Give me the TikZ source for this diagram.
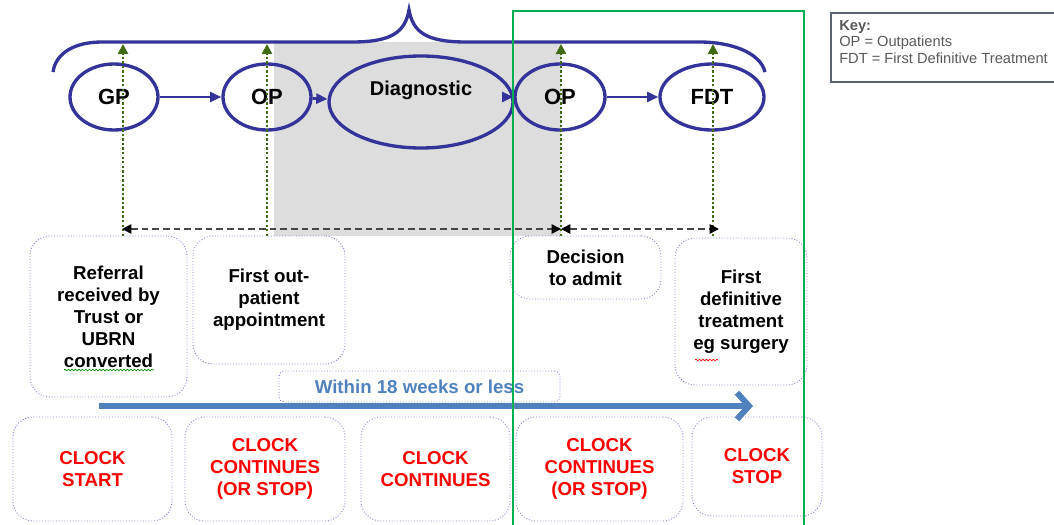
\documentclass[tikz,border=0pt]{standalone}
\usepackage{fontspec}
\setmainfont{Liberation Sans}
\usetikzlibrary{shapes.geometric,arrows.meta,decorations.pathmorphing}
\definecolor{ellblue}{RGB}{51,51,153}
\definecolor{dgreen}{RGB}{64,106,20}
\definecolor{dashgray}{RGB}{70,70,70}
\definecolor{boxcol}{RGB}{135,135,215}
\definecolor{shadegray}{RGB}{221,221,221}
\definecolor{brightgreen}{RGB}{0,176,80}
\definecolor{arrowblue}{RGB}{79,129,189}
\definecolor{clockred}{RGB}{255,0,0}
\definecolor{keygray}{RGB}{89,89,89}
\definecolor{keyborder}{RGB}{90,100,110}
\begin{document}
\begin{tikzpicture}[x=0.75pt,y=-0.75pt,
  ell/.style={ellipse, draw=ellblue, line width=2.5pt, inner sep=0pt, font=\fontsize{16.5}{18}\selectfont\bfseries},
  flow/.style={draw=ellblue, line width=2pt, -{Triangle[length=8.5pt,width=7.5pt]}},
  vdot/.style={draw=dgreen, line width=1.8pt, dash pattern=on 1.8pt off 1.6pt, -{Triangle[length=7.5pt,width=7.5pt]}},
  dasharr/.style={draw=dashgray, line width=1.2pt, dash pattern=on 5pt off 3pt, {Triangle[length=7pt,width=7pt,color=black]}-{Triangle[length=7pt,width=7pt,color=black]}},
  stagebox/.style={draw=boxcol, line width=0.7pt, dash pattern=on 0.7pt off 1.4pt, rounded corners=15pt, inner sep=0pt, align=center, font=\fontsize{14}{16.5}\selectfont\bfseries},
  clockbox/.style={stagebox, text=clockred},
  bigarrow/.style={draw=arrowblue, line width=4.5pt, -{Straight Barb[length=9pt,width=20pt]}},
  squiggle/.style={decorate, decoration={snake, amplitude=0.6pt, segment length=2.6pt}, line width=0.5pt},
]
\useasboundingbox (0,0) rectangle (1054,525);

% shaded region
\fill[shadegray] (274,42) rectangle (561,236);

% brace
\draw[ellblue, line width=2.5pt] (53,72) .. controls (56,52) and (76,42) .. (102,42) -- (352,42)
  .. controls (392,42) and (405,32) .. (409,10) .. controls (413,32) and (426,42) .. (466,42)
  -- (700,42) .. controls (730,42) and (760,52) .. (765,72);

% ellipses
\node[ell, minimum width=66pt, minimum height=49.5pt] (gp) at (114,97) {GP};
\node[ell, minimum width=66pt, minimum height=49.5pt] (op1) at (267,97) {OP};
\node[ell, minimum width=138pt, minimum height=69pt] (diag) at (421,102) {};
\node[font=\fontsize{15}{17}\selectfont\bfseries] (diagtext) at (421,90) {Diagnostic};
\node[ell, minimum width=67.5pt, minimum height=49.5pt] (op2) at (560,97) {OP};
\node[ell, minimum width=78pt, minimum height=49.5pt] (fdt) at (712,97) {FDT};

% flow arrows
\draw[flow] (gp) -- (op1);
\draw[flow] (op1) -- (diag);
\draw[flow] ([xshift=-8pt]diag.east |- op2.west) -- (op2.west);
\draw[flow] (op2) -- (fdt);

% vertical dotted arrows
\coordinate (b1) at (123,236); \coordinate (t1) at (123,44);
\coordinate (b2) at (267,236); \coordinate (t2) at (267,44);
\coordinate (b3) at (561,236); \coordinate (t3) at (561,44);
\coordinate (b4) at (713,236); \coordinate (t4) at (713,44);
\draw[vdot] (b1) -- (t1);
\draw[vdot] (b2) -- (t2);
\draw[vdot] (b3) -- (t3);
\draw[vdot] (b4) -- (t4);

% dashed double arrows
\coordinate (d1) at (122,229); \coordinate (d2) at (561,229); \coordinate (d3) at (719,229);
\draw[dasharr] (d1) -- (d2);
\draw[dasharr] (d2) -- (d3);

% stage boxes
\node[stagebox, minimum width=117.75pt, minimum height=120.75pt] (ref) at (108.5,316.5) {Referral\\received by\\Trust or\\UBRN\\converted};
\node[stagebox, minimum width=114pt, minimum height=96pt] (fop) at (269,300) {First out-\\patient\\appointment};
\node[stagebox, minimum width=113.25pt, minimum height=47.25pt] (dta) at (585.5,267.5) {Decision\\to admit};
\node[stagebox, minimum width=99pt, minimum height=110.25pt] (fdtbox) at (741,311.5) {First\\definitive\\treatment\\eg surgery};

% spell-check marks
\coordinate (sq1a) at (64,370); \coordinate (sq1b) at (154,370);
\draw[squiggle, green!55!black] (sq1a) -- (sq1b);
\coordinate (sq2a) at (695,360); \coordinate (sq2b) at (718,360);
\draw[squiggle, red] (sq2a) -- (sq2b);

% within 18 weeks
\node[stagebox, rounded corners=4pt, minimum width=210.75pt, minimum height=23.25pt, text=arrowblue] (within) at (419.5,386.5) {Within 18 weeks or less};
\coordinate (ws) at (99,406); \coordinate (we) at (753,406);
\draw[bigarrow] (ws) -- (we);

% clock boxes
\node[clockbox, minimum width=119.25pt, minimum height=78pt] (c1) at (92.5,469) {CLOCK\\START};
\node[clockbox, minimum width=120pt, minimum height=78pt] (c2) at (265,469) {CLOCK\\CONTINUES\\(OR STOP)};
\node[clockbox, minimum width=111.75pt, minimum height=78pt] (c3) at (435.5,469) {CLOCK\\CONTINUES};
\node[clockbox, minimum width=125.25pt, minimum height=78pt] (c4) at (599.5,469) {CLOCK\\CONTINUES\\(OR STOP)};
\node[clockbox, minimum width=97.5pt, minimum height=74.25pt] (c5) at (757,466.5) {CLOCK\\STOP};

% key
\draw[keyborder, line width=1pt] (1056,13) -- (831,13) -- (831,82) -- (1056,82);
\node[anchor=north west, align=left, text=keygray, inner sep=0pt, font=\fontsize{11}{12.4}\selectfont] (key) at (839,20)
  {\textbf{Key:}\\OP = Outpatients\\FDT = First Definitive Treatment};

% green frame
\draw[brightgreen, line width=1.6pt] (513,527) -- (513,11) -- (804,11) -- (804,527);
\end{tikzpicture}
\end{document}
